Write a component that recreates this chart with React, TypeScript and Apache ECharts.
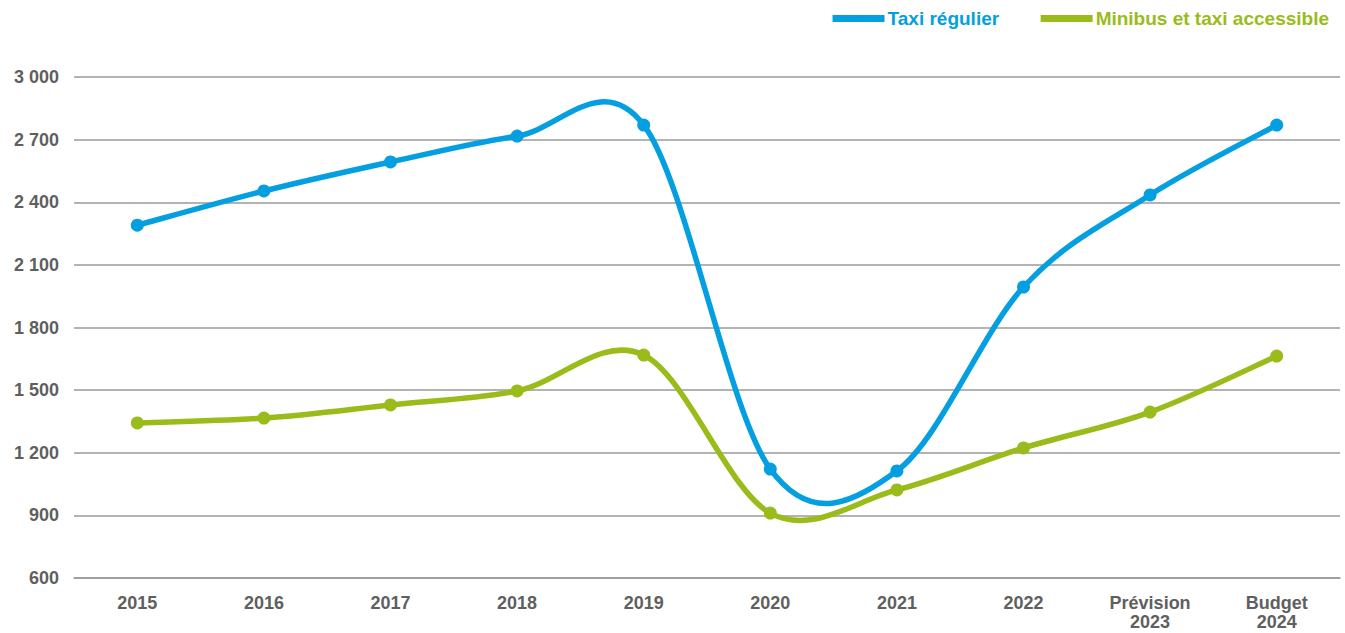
import React, { useEffect, useRef } from "react";
import * as echarts from "echarts";

const categories = ["2015", "2016", "2017", "2018", "2019", "2020", "2021", "2022", "Prévision\n2023", "Budget\n2024"];
const taxiRegulier = [2290, 2454, 2593, 2717, 2770, 1122, 1113, 1994, 2435, 2770];
const minibusAccessible = [1343, 1366, 1429, 1496, 1668, 911, 1022, 1223, 1395, 1663];
const yTicks = { min: 600, max: 3000, interval: 300 };

const BLUE = "#039FE0";
const GREEN = "#99BC1A";
const LABEL = "#5F5F5F";
const FONT = "'Liberation Sans', Arial, sans-serif";

function smoothPath(values: number[], api: any): string {
  const pts = values.map((v, i) => api.coord([i, v]));
  let d = `M${pts[0][0]},${pts[0][1]}`;
  for (let i = 0; i < pts.length - 1; i++) {
    const p0 = pts[Math.max(0, i - 1)];
    const p1 = pts[i];
    const p2 = pts[i + 1];
    const p3 = pts[Math.min(pts.length - 1, i + 2)];
    const c1x = p1[0] + (p2[0] - p0[0]) / 6;
    const c1y = p1[1] + (p2[1] - p0[1]) / 6;
    const c2x = p2[0] - (p3[0] - p1[0]) / 6;
    const c2y = p2[1] - (p3[1] - p1[1]) / 6;
    d += ` C${c1x},${c1y} ${c2x},${c2y} ${p2[0]},${p2[1]}`;
  }
  return d;
}

function curveSeries(id: string, values: number[], color: string) {
  return {
    type: "custom",
    id,
    name: id,
    silent: true,
    clip: false,
    z: 1,
    data: [[0, values[0]]],
    encode: { x: 0, y: 1 },
    renderItem: (_params: any, api: any) => ({
      type: "path",
      shape: { pathData: smoothPath(values, api) },
      style: { fill: "none", stroke: color, lineWidth: 5.5, lineCap: "round", lineJoin: "round" },
    }),
  };
}

export default function App() {
  const ref = useRef<HTMLDivElement>(null);
  useEffect(() => {
    if (!ref.current) return;
    const chart = echarts.init(ref.current, undefined, { renderer: "svg" });
    chart.setOption({
      animation: false,
      backgroundColor: "#ffffff",
      textStyle: { fontFamily: FONT },
      legend: {
        right: 11,
        top: 4,
        itemWidth: 52,
        itemHeight: 8,
        itemGap: 38,
        lineStyle: { opacity: 1, width: 7 },
        textStyle: { fontFamily: FONT, fontWeight: "bold", fontSize: 19, padding: [0, 0, 0, -2] },
        data: [
          { name: "Taxi régulier", textStyle: { color: BLUE } },
          { name: "Minibus et taxi accessible", textStyle: { color: GREEN } },
        ],
      },
      grid: { left: 74, right: 5, top: 77, bottom: 55 },
      xAxis: {
        type: "category",
        data: categories,
        boundaryGap: true,
        axisLine: { show: true, lineStyle: { color: "#9a9a9a", width: 1.5 } },
        axisTick: { show: false },
        axisLabel: {
          color: LABEL,
          fontFamily: FONT,
          fontWeight: "bold",
          fontSize: 18,
          lineHeight: 19,
          margin: 15,
          interval: 0,
        },
      },
      yAxis: {
        type: "value",
        min: yTicks.min,
        max: yTicks.max,
        interval: yTicks.interval,
        axisLine: { show: false },
        axisTick: { show: false },
        splitLine: { lineStyle: { color: "#9a9a9a", width: 1.5 } },
        axisLabel: {
          color: LABEL,
          fontFamily: FONT,
          fontWeight: "bold",
          fontSize: 18,
          margin: 15,
          formatter: (v: number) => String(v).replace(/\B(?=(\d{3})+(?!\d))/g, " "),
        },
      },
      series: [
        curveSeries("taxiCurve", taxiRegulier, BLUE),
        curveSeries("minibusCurve", minibusAccessible, GREEN),
        {
          type: "line",
          name: "Taxi régulier",
          data: taxiRegulier,
          z: 3,
          symbol: "circle",
          symbolSize: 13,
          itemStyle: { color: BLUE },
          lineStyle: { color: BLUE, width: 6, opacity: 0 },
        },
        {
          type: "line",
          name: "Minibus et taxi accessible",
          data: minibusAccessible,
          z: 3,
          symbol: "circle",
          symbolSize: 13,
          itemStyle: { color: GREEN },
          lineStyle: { color: GREEN, width: 6, opacity: 0 },
        },
      ],
    });
    return () => chart.dispose();
  }, []);
  return <div ref={ref} style={{ position: "fixed", left: 0, top: 0, width: 1345, height: 633 }} />;
}
